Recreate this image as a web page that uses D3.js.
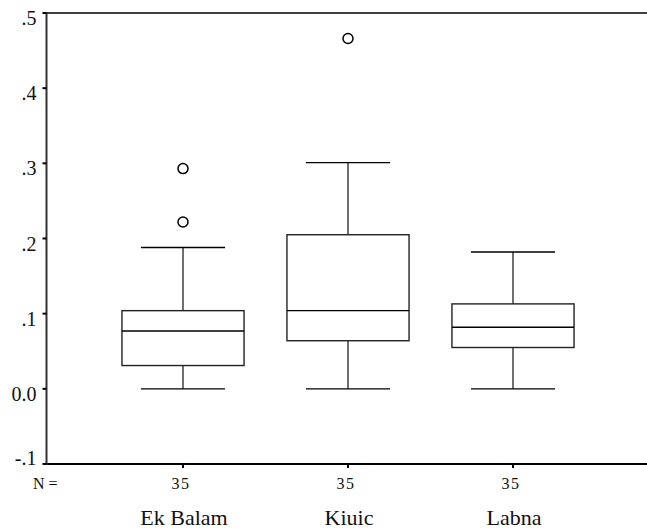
<!DOCTYPE html>
<html>
<head>
<meta charset="utf-8">
<script src="https://cdn.jsdelivr.net/npm/d3@7"></script>
<style>
  html, body { margin: 0; padding: 0; background: #fff; }
</style>
</head>
<body>
<svg id="chart" width="647" height="529"></svg>
<script>
// Box plot summary per site
const categories   = ["Ek Balam", "Kiuic", "Labna"];
const counts       = [35, 35, 35];
const whiskerLow   = [0.0, 0.0, 0.0];
const quartile1    = [0.031, 0.064, 0.055];
const medians      = [0.077, 0.104, 0.082];
const quartile3    = [0.104, 0.205, 0.113];
const whiskerHigh  = [0.188, 0.301, 0.182];
const outliers     = [[0.222, 0.293], [0.466], []];
const yTicks       = [-0.1, 0, 0.1, 0.2, 0.3, 0.4, 0.5];
const yTickLabels  = ["-.1", "0.0", ".1", ".2", ".3", ".4", ".5"];

(function draw() {
  const svg = d3.select("#chart");
  const serif = '"Liberation Serif", "Times New Roman", serif';
  const plotLeft = 47, plotRight = 647, plotTop = 13, plotBottom = 464;

  const y = d3.scaleLinear().domain([-0.1, 0.5]).range([plotBottom, plotTop]);
  const x = d3.scaleBand().domain(categories).range([100.5, 595.5]).padding(0);
  const bw = x.bandwidth();
  const boxW = bw * 0.74;
  const capW = bw * 0.51;

  // frame: top and bottom rules
  svg.append("line").attr("x1", plotLeft).attr("x2", plotRight).attr("y1", plotTop).attr("y2", plotTop)
    .attr("stroke", "#000").attr("stroke-width", 1.5);
  svg.append("line").attr("x1", plotLeft).attr("x2", plotRight).attr("y1", plotBottom).attr("y2", plotBottom)
    .attr("stroke", "#000").attr("stroke-width", 2);

  // y axis
  const yAxis = svg.append("g").attr("transform", `translate(${plotLeft - 0.5},0)`);
  yAxis.append("line").attr("x1", 0).attr("x2", 0).attr("y1", plotTop - 1).attr("y2", plotBottom + 1)
    .attr("stroke", "#333").attr("stroke-width", 2);
  yAxis.selectAll("line.tick").data(yTicks).join("line").attr("class", "tick")
    .attr("x1", -4).attr("x2", 0)
    .attr("y1", d => y(d)).attr("y2", d => y(d))
    .attr("stroke", "#000").attr("stroke-width", 2);
  yAxis.selectAll("text").data(yTicks).join("text")
    .attr("x", -10)
    .attr("y", d => Math.min(y(d) + 12, plotBottom + 1))
    .attr("text-anchor", "end")
    .style("font-family", serif)
    .style("font-size", "20px")
    .attr("fill", "#111")
    .text((d, i) => yTickLabels[i]);

  // x ticks, counts and category labels
  const xg = svg.append("g");
  xg.selectAll("line").data(categories).join("line")
    .attr("x1", d => x(d) + bw / 2).attr("x2", d => x(d) + bw / 2)
    .attr("y1", plotBottom + 1).attr("y2", plotBottom + 4)
    .attr("stroke", "#000").attr("stroke-width", 2);
  xg.selectAll("text.n").data(categories).join("text").attr("class", "n")
    .attr("x", d => x(d) + bw / 2 - 2)
    .attr("y", 489)
    .attr("text-anchor", "middle")
    .style("font-family", serif)
    .style("font-size", "16px")
    .style("letter-spacing", "1.5px")
    .attr("fill", "#111")
    .text((d, i) => counts[i]);
  xg.selectAll("text.cat").data(categories).join("text").attr("class", "cat")
    .attr("x", d => x(d) + bw / 2 + 1)
    .attr("y", 525)
    .attr("text-anchor", "middle")
    .style("font-family", serif)
    .style("font-size", "22px")
    .attr("fill", "#111")
    .text(d => d);
  svg.append("text").attr("x", 33).attr("y", 489)
    .style("font-family", serif)
    .style("font-size", "16px").attr("fill", "#111").text("N =");

  // boxes
  const boxes = svg.selectAll("g.box").data(categories).join("g").attr("class", "box")
    .attr("transform", d => `translate(${x(d) + bw / 2},0)`);

  boxes.append("line").attr("x1", 0).attr("x2", 0)
    .attr("y1", (d, i) => y(whiskerHigh[i])).attr("y2", (d, i) => y(quartile3[i]))
    .attr("stroke", "#333").attr("stroke-width", 1.4);
  boxes.append("line").attr("x1", 0).attr("x2", 0)
    .attr("y1", (d, i) => y(quartile1[i])).attr("y2", (d, i) => y(whiskerLow[i]))
    .attr("stroke", "#333").attr("stroke-width", 1.4);
  boxes.append("line").attr("x1", -capW / 2).attr("x2", capW / 2)
    .attr("y1", (d, i) => y(whiskerHigh[i])).attr("y2", (d, i) => y(whiskerHigh[i]))
    .attr("stroke", "#000").attr("stroke-width", 1.4);
  boxes.append("line").attr("x1", -capW / 2).attr("x2", capW / 2)
    .attr("y1", (d, i) => y(whiskerLow[i])).attr("y2", (d, i) => y(whiskerLow[i]))
    .attr("stroke", "#000").attr("stroke-width", 1.4);
  boxes.append("rect")
    .attr("x", -boxW / 2).attr("width", boxW)
    .attr("y", (d, i) => y(quartile3[i]))
    .attr("height", (d, i) => y(quartile1[i]) - y(quartile3[i]))
    .attr("fill", "#fff").attr("stroke", "#222").attr("stroke-width", 1.4);
  boxes.append("line").attr("x1", -boxW / 2).attr("x2", boxW / 2)
    .attr("y1", (d, i) => y(medians[i])).attr("y2", (d, i) => y(medians[i]))
    .attr("stroke", "#000").attr("stroke-width", 1.4);
  boxes.selectAll("circle").data((d, i) => outliers[i]).join("circle")
    .attr("cx", 0).attr("cy", v => y(v)).attr("r", 5)
    .attr("fill", "#fff").attr("stroke", "#000").attr("stroke-width", 1.5);
})();
</script>
</body>
</html>
